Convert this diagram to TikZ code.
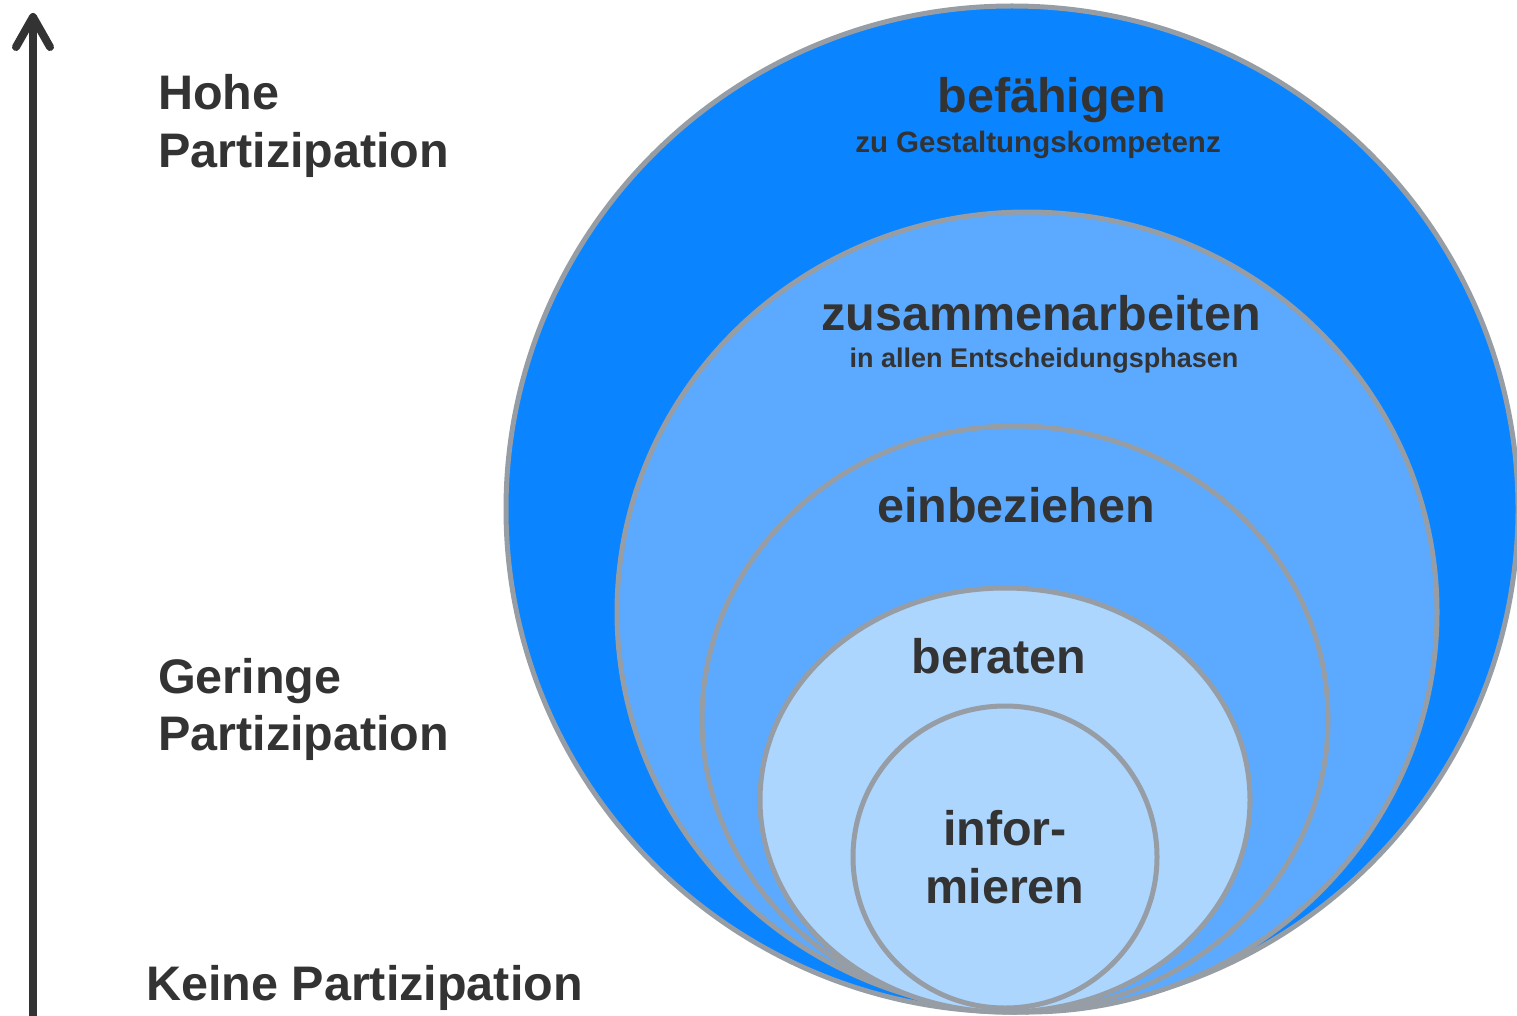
\documentclass[tikz,border=0pt]{standalone}
\usepackage{fontspec}
\setmainfont{Liberation Sans}
\usetikzlibrary{arrows.meta}
\definecolor{ringdark}{RGB}{10,132,255}
\definecolor{ringmid}{RGB}{91,170,255}
\definecolor{ringlight}{RGB}{173,214,255}
\definecolor{ringline}{RGB}{150,157,164}
\definecolor{txtgray}{RGB}{51,51,51}
\begin{document}
\begin{tikzpicture}[x=1pt,y=-1pt]
	\tikzstyle{ring} = [draw=ringline, line width=5pt]
	\tikzstyle{bigword} = [text=txtgray, inner sep=0pt, font={\bfseries\fontsize{48.5}{58}\selectfont}]
	\tikzstyle{subword} = [text=txtgray, inner sep=0pt, font={\bfseries\fontsize{29.5}{34}\selectfont}]
	\clip (0,0) rectangle (1517,1016);
	\fill[white] (0,0) rectangle (1517,1016);
	% rings, outermost first
	\filldraw[ring, fill=ringdark] (1012,509) ellipse [x radius=506pt, y radius=503pt];
	\filldraw[ring, fill=ringmid] (1027,612) ellipse [x radius=410pt, y radius=400pt];
	\filldraw[ring, fill=ringmid] (1015,719) ellipse [x radius=313pt, y radius=293pt];
	\filldraw[ring, fill=ringlight] (1005,800) ellipse [x radius=245pt, y radius=212pt];
	\filldraw[ring, fill=ringlight] (1005,857) ellipse [x radius=152pt, y radius=151pt];
	% ring labels
	\node[bigword, anchor=base] (befaehigen) at (1052,113) {befähigen};
	\node[subword, anchor=base] (befaehigen-sub) at (1038,153) {zu Gestaltungskompetenz};
	\node[bigword, anchor=base] (zusammen) at (1041,330) {zusammenarbeiten};
	\node[subword, anchor=base, font={\bfseries\fontsize{27}{32}\selectfont}] (zusammen-sub) at (1044,367) {in allen Entscheidungsphasen};
	\node[bigword, anchor=base] (einbeziehen) at (1016,522) {einbeziehen};
	\node[bigword, anchor=base] (beraten) at (999,673) {beraten};
	\node[bigword, anchor=base] (informieren) at (1005,845) {infor-};
	\node[bigword, anchor=base] (informieren-2) at ([yshift=-58pt]informieren.base) {mieren};
	% scale labels
	\node[bigword, anchor=base west] (hohe) at (158,110) {Hohe};
	\node[bigword, anchor=base west] (hohe-2) at ([yshift=-58pt]hohe.base west) {Partizipation};
	\node[bigword, anchor=base west] (geringe) at (158,693) {Geringe};
	\node[bigword, anchor=base west] (geringe-2) at ([yshift=-57pt]geringe.base west) {Partizipation};
	\node[bigword, anchor=base west] (keine) at (146,1000) {Keine Partizipation};
	% axis
	\coordinate (axis-bottom) at (33,1016);
	\coordinate (axis-top) at (33,13);
	\draw[txtgray, line width=8pt, -{Straight Barb[round, length=30pt, width=34pt]}] (axis-bottom) -- (axis-top);
\end{tikzpicture}
\end{document}
